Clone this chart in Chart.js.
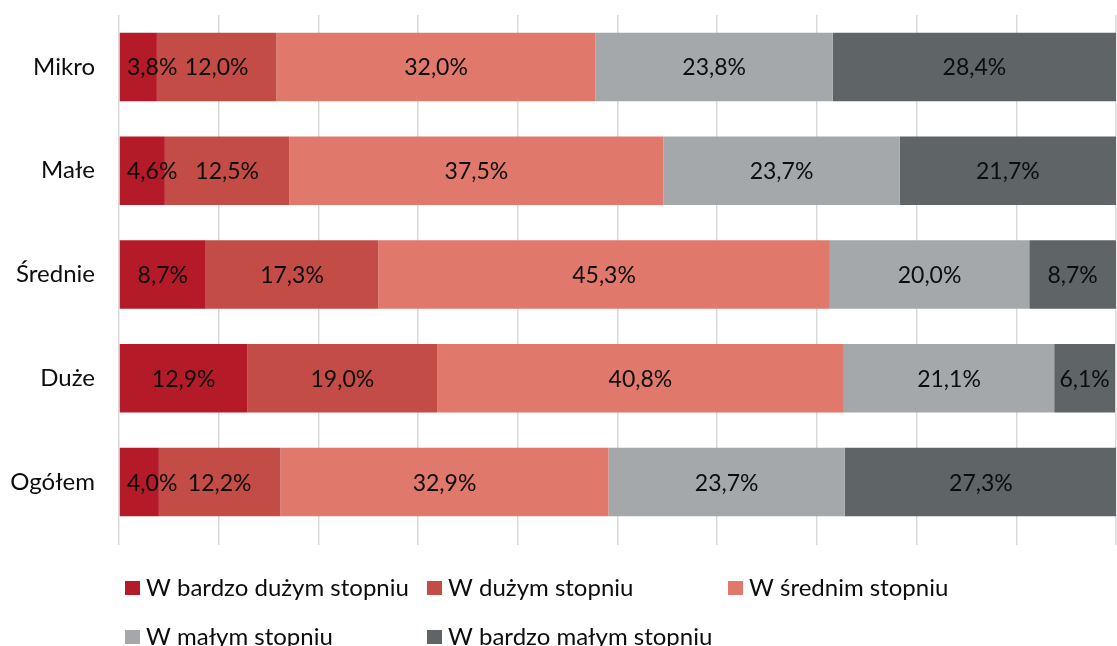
<!DOCTYPE html>
<html>
<head>
<meta charset="utf-8">
<script src="https://cdn.jsdelivr.net/npm/chart.js@4"></script>
<style>
  html, body { margin: 0; padding: 0; background: #fff; }
  #wrap { width: 1117px; height: 646px; }
</style>
</head>
<body>
<div id="wrap"><canvas id="chart" width="1117" height="646"></canvas></div>
<script>
const categories = ['Mikro', 'Małe', 'Średnie', 'Duże', 'Ogółem'];
const seriesNames = ['W bardzo dużym stopniu', 'W dużym stopniu', 'W średnim stopniu', 'W małym stopniu', 'W bardzo małym stopniu'];
const veryHigh = [3.8, 4.6, 8.7, 12.9, 4.0];
const high = [12.0, 12.5, 17.3, 19.0, 12.2];
const medium = [32.0, 37.5, 45.3, 40.8, 32.9];
const low = [23.8, 23.7, 20.0, 21.1, 23.7];
const veryLow = [28.4, 21.7, 8.7, 6.1, 27.3];
const colors = ['#B41A27', '#C44C46', '#E1786C', '#A5A8AB', '#5F6467'];

const FONT = 'Lato, "Open Sans", sans-serif';

// labels in the middle of every segment, kept inside the plot on the left
const segmentLabels = {
  id: 'segmentLabels',
  afterDatasetsDraw(chart) {
    const ctx = chart.ctx;
    const area = chart.chartArea;
    ctx.save();
    ctx.font = '23px ' + FONT;
    ctx.fillStyle = '#0d0d0d';
    ctx.textAlign = 'center';
    ctx.textBaseline = 'middle';
    chart.data.datasets.forEach((ds, i) => {
      chart.getDatasetMeta(i).data.forEach((bar, j) => {
        const txt = ds.data[j].toFixed(1).replace('.', ',') + '%';
        const w = ctx.measureText(txt).width;
        let x = (bar.x + bar.base) / 2;
        x = Math.max(x, area.left + 8 + w / 2);
        x = Math.min(x, area.right - 3 - w / 2);
        ctx.fillText(txt, x, bar.y + 1);
      });
    });
    ctx.restore();
  }
};

// two-row legend like the original
const gridLegend = {
  id: 'gridLegend',
  afterDraw(chart) {
    const ctx = chart.ctx;
    const spots = [[125, 588], [427, 588], [728, 588], [125, 637], [427, 637]];
    ctx.save();
    ctx.font = '24px ' + FONT;
    ctx.textBaseline = 'middle';
    ctx.textAlign = 'left';
    chart.data.datasets.forEach((ds, i) => {
      const [x, y] = spots[i];
      ctx.fillStyle = ds.backgroundColor;
      ctx.fillRect(x, y - 7, 15, 14);
      ctx.fillStyle = '#0d0d0d';
      ctx.fillText(ds.label, x + 21, y);
    });
    ctx.restore();
  }
};

const values = [veryHigh, high, medium, low, veryLow];

new Chart(document.getElementById('chart'), {
  type: 'bar',
  data: {
    labels: categories,
    datasets: values.map((v, i) => ({
      label: seriesNames[i],
      data: v,
      backgroundColor: colors[i],
      borderWidth: 0,
      categoryPercentage: 1,
      barPercentage: 0.66
    }))
  },
  options: {
    indexAxis: 'y',
    responsive: false,
    animation: false,
    layout: { padding: { top: 15, right: 1, left: 0, bottom: 0 } },
    scales: {
      x: {
        stacked: true,
        min: 0,
        max: 100,
        ticks: { display: false, stepSize: 10 },
        grid: { color: '#D9D9D9', lineWidth: 1.5, drawTicks: true, tickLength: 11 },
        border: { display: false },
        afterFit: (scale) => {
          scale.height = 112;
          scale.paddingLeft = 0;
          scale.paddingRight = 0;
        }
      },
      y: {
        stacked: true,
        ticks: { color: '#0d0d0d', font: { family: FONT, size: 24 }, padding: 24 },
        grid: { display: false, drawTicks: false },
        border: { display: false },
        afterFit: (scale) => {
          scale.width = 119;
          scale.paddingTop = 0;
          scale.paddingBottom = 0;
        }
      }
    },
    plugins: {
      legend: { display: false },
      tooltip: { enabled: false }
    }
  },
  plugins: [segmentLabels, gridLegend]
});
</script>
</body>
</html>
